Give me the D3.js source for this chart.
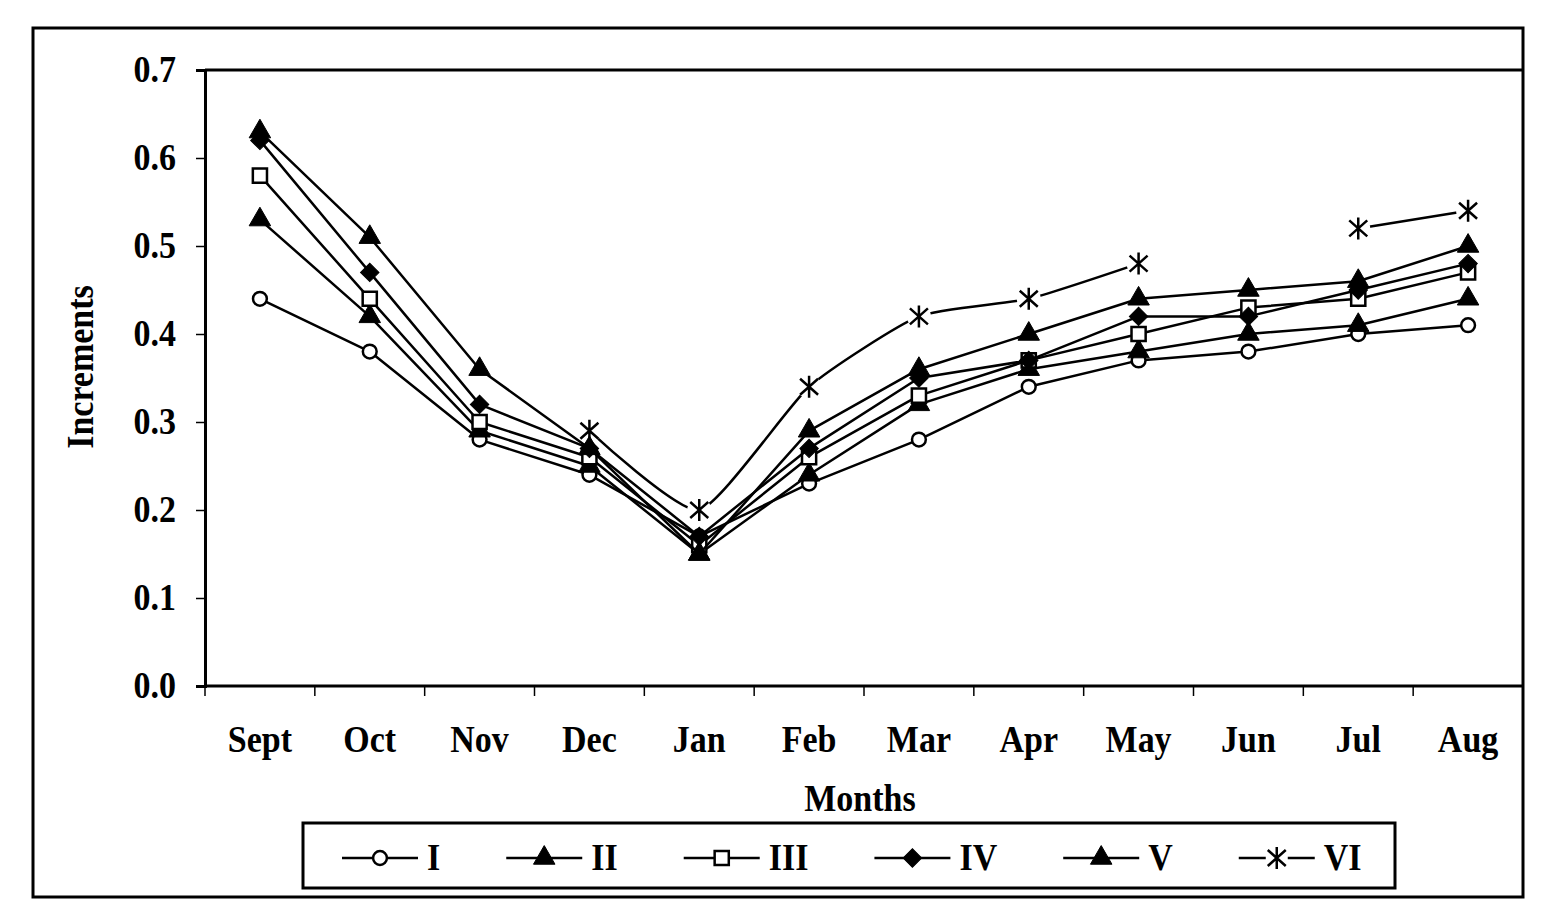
<!DOCTYPE html>
<html>
<head>
<meta charset="utf-8">
<script src="https://cdn.jsdelivr.net/npm/d3@7"></script>
<style>
  html, body { margin: 0; padding: 0; background: #fff; }
  svg { display: block; }
  text { font-family: "Liberation Serif", "Times New Roman", serif; font-weight: 700; fill: #000; }
</style>
</head>
<body>
<div id="chart"></div>
<script>
// Mois (axe X) et graduations (axe Y)
const months = ['Sept', 'Oct', 'Nov', 'Dec', 'Jan', 'Feb', 'Mar', 'Apr', 'May', 'Jun', 'Jul', 'Aug'];
const yTicks = [0, 0.1, 0.2, 0.3, 0.4, 0.5, 0.6, 0.7];
const seriesNames = ['I', 'II', 'III', 'IV', 'V', 'VI'];

// Valeurs
const serI   = [0.44, 0.38, 0.28, 0.24, 0.17, 0.23, 0.28, 0.34, 0.37, 0.38, 0.40, 0.41];
const serII  = [0.53, 0.42, 0.29, 0.25, 0.15, 0.24, 0.32, 0.36, 0.38, 0.40, 0.41, 0.44];
const serIII = [0.58, 0.44, 0.30, 0.26, 0.16, 0.26, 0.33, 0.37, 0.40, 0.43, 0.44, 0.47];
const serIV  = [0.62, 0.47, 0.32, 0.27, 0.17, 0.27, 0.35, 0.37, 0.42, 0.42, 0.45, 0.48];
const serV   = [0.63, 0.51, 0.36, 0.27, 0.15, 0.29, 0.36, 0.40, 0.44, 0.45, 0.46, 0.50];
const serVI  = [null, null, null, 0.29, 0.20, 0.34, 0.42, 0.44, 0.48, null, 0.52, 0.54];

const W = 1546, H = 907;
const PLOT = { left: 205, right: 1523, top: 70, bottom: 686 };
const FS = 34;
const STRETCH = 'scale(1,1.1)';   // police un peu étirée en hauteur comme l'original

const svg = d3.select('#chart').append('svg')
  .attr('width', W).attr('height', H)
  .attr('viewBox', `0 0 ${W} ${H}`);

const x = d3.scaleBand().domain(months).range([PLOT.left, PLOT.right]);
const y = d3.scaleLinear().domain([0, 0.7]).range([PLOT.bottom, PLOT.top]);
const cx = m => x(m) + x.bandwidth() / 2;

// Texte gras étiré
function label(sel, tx, ty, txt, anchor, rot) {
  return sel.append('text')
    .attr('transform', `translate(${tx},${ty})${rot ? ' rotate(' + rot + ')' : ''} ${STRETCH}`)
    .attr('text-anchor', anchor || 'start')
    .attr('font-size', FS)
    .text(txt);
}

// Cadre extérieur
svg.append('rect')
  .attr('x', 33).attr('y', 28).attr('width', 1490).attr('height', 869)
  .attr('fill', 'none').attr('stroke', '#000').attr('stroke-width', 3);

// Bord supérieur de la zone de tracé
svg.append('line')
  .attr('x1', PLOT.left).attr('x2', PLOT.right)
  .attr('y1', PLOT.top).attr('y2', PLOT.top)
  .attr('stroke', '#000').attr('stroke-width', 3);

// Axe Y
const yAxis = svg.append('g')
  .attr('transform', `translate(${PLOT.left},0)`)
  .call(d3.axisLeft(y).tickValues(yTicks).tickFormat(d3.format('.1f')).tickSize(9).tickPadding(20));
yAxis.select('.domain').attr('stroke-width', 3);
yAxis.selectAll('.tick line').attr('stroke-width', 1.5);
yAxis.selectAll('.tick text')
  .attr('font-family', '"Liberation Serif", serif')
  .attr('font-weight', 700).attr('font-size', FS)
  .attr('transform', STRETCH);

// Axe X : ligne de base
svg.append('line')
  .attr('x1', PLOT.left).attr('x2', PLOT.right)
  .attr('y1', PLOT.bottom).attr('y2', PLOT.bottom)
  .attr('stroke', '#000').attr('stroke-width', 3);

// Graduations aux limites des catégories
svg.append('g').selectAll('line')
  .data(months)
  .join('line')
  .attr('x1', d => x(d)).attr('x2', d => x(d))
  .attr('y1', PLOT.bottom).attr('y2', PLOT.bottom + 10)
  .attr('stroke', '#000').attr('stroke-width', 1.5);

// Étiquettes des mois
const mLabels = svg.append('g');
months.forEach(m => label(mLabels, cx(m), 752, m, 'middle'));

// Titres d'axes
label(svg, 860, 811, 'Months', 'middle');
label(svg, 93, 367, 'Increments', 'middle', -90);

// Symboles
const starPath = 'M0,-11L0,11M-9,-8L9,8M-9,8L9,-8';
function drawMarker(sel, type) {
  if (type === 'circle') {
    sel.append('path').attr('d', d3.symbol(d3.symbolCircle, 150)())
      .attr('fill', '#fff').attr('stroke', '#000').attr('stroke-width', 2.5);
  } else if (type === 'triangle') {
    sel.append('path').attr('d', d3.symbol(d3.symbolTriangle, 200)())
      .attr('fill', '#000').attr('stroke', '#000').attr('stroke-width', 1);
  } else if (type === 'square') {
    sel.append('path').attr('d', d3.symbol(d3.symbolSquare, 200)())
      .attr('fill', '#fff').attr('stroke', '#000').attr('stroke-width', 2.5);
  } else if (type === 'diamond') {
    sel.append('path').attr('d', d3.symbol(d3.symbolSquare, 170)())
      .attr('transform', 'rotate(45)')
      .attr('fill', '#000').attr('stroke', '#000').attr('stroke-width', 1);
  } else if (type === 'star') {
    sel.append('path').attr('d', starPath)
      .attr('fill', 'none').attr('stroke', '#000').attr('stroke-width', 2.5);
  }
}

const series = [
  { name: seriesNames[0], values: serI,   marker: 'circle' },
  { name: seriesNames[1], values: serII,  marker: 'triangle' },
  { name: seriesNames[2], values: serIII, marker: 'square' },
  { name: seriesNames[3], values: serIV,  marker: 'diamond' },
  { name: seriesNames[4], values: serV,   marker: 'triangle' },
  { name: seriesNames[5], values: serVI,  marker: 'star', smooth: true }
];

// Masque : coupe la ligne VI autour des étoiles
const defs = svg.append('defs');
const mask = defs.append('mask').attr('id', 'starGap').attr('maskUnits', 'userSpaceOnUse');
mask.append('rect').attr('x', 0).attr('y', 0).attr('width', W).attr('height', H).attr('fill', '#fff');
mask.selectAll('circle')
  .data(serVI.map((v, i) => ({ v, m: months[i] })).filter(d => d.v !== null))
  .join('circle')
  .attr('cx', d => cx(d.m)).attr('cy', d => y(d.v)).attr('r', 12)
  .attr('fill', '#000');

series.forEach(s => {
  const pts = s.values.map((v, i) => ({ m: months[i], v }));
  const line = d3.line()
    .defined(d => d.v !== null)
    .x(d => cx(d.m)).y(d => y(d.v))
    .curve(s.smooth ? d3.curveCardinal.tension(0.45) : d3.curveLinear);
  const p = svg.append('path')
    .attr('d', line(pts))
    .attr('fill', 'none').attr('stroke', '#000').attr('stroke-width', 2.5)
    .attr('stroke-linejoin', 'round');
  if (s.marker === 'star') p.attr('mask', 'url(#starGap)');

  svg.append('g').selectAll('g')
    .data(pts.filter(d => d.v !== null))
    .join('g')
    .attr('transform', d => `translate(${cx(d.m)},${y(d.v)})`)
    .each(function () { drawMarker(d3.select(this), s.marker); });
});

// Légende
svg.append('rect')
  .attr('x', 303).attr('y', 823).attr('width', 1092).attr('height', 65)
  .attr('fill', '#fff').attr('stroke', '#000').attr('stroke-width', 3);

const legY = 858;
let lx = 342;
series.forEach(s => {
  const g = svg.append('g');
  g.append('line')
    .attr('x1', lx).attr('x2', lx + 76)
    .attr('y1', legY).attr('y2', legY)
    .attr('stroke', '#000').attr('stroke-width', 2.5);
  const mk = g.append('g').attr('transform', `translate(${lx + 38},${legY})`);
  if (s.marker === 'star') {
    mk.append('rect').attr('x', -11).attr('y', -4).attr('width', 22).attr('height', 8).attr('fill', '#fff');
  }
  drawMarker(mk, s.marker);
  const t = label(g, lx + 85, legY + 12, s.name);
  lx = lx + 85 + t.node().getComputedTextLength() + 66;
});
</script>
</body>
</html>
